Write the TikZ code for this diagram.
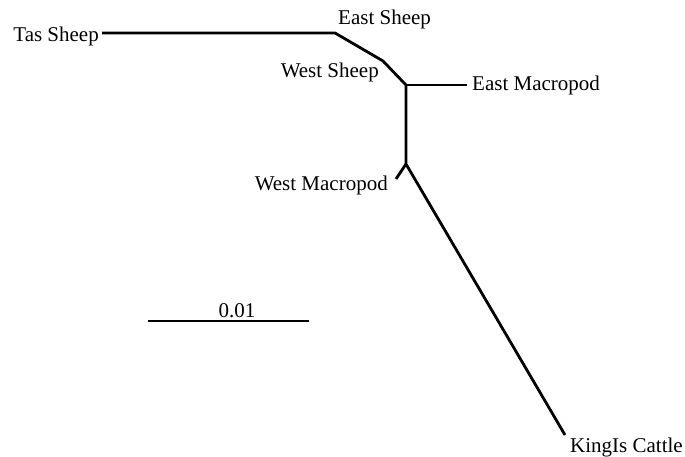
\documentclass[tikz,border=0pt]{standalone}
\usepackage{fontspec}
\setmainfont{Liberation Serif}
\begin{document}
\begin{tikzpicture}[x=1pt,y=-1pt,
  br/.style={line width=2.8pt,line cap=butt,line join=miter},
  lab/.style={inner sep=0pt,font=\fontsize{21}{23}\selectfont}]
\useasboundingbox (0,0) rectangle (685,457);
% tree nodes
\coordinate (tas) at (102,33);
\coordinate (es) at (335,33);
\coordinate (ws) at (383,61);
\coordinate (n1) at (406,85);
\coordinate (em) at (467,85);
\coordinate (n2) at (406,164);
\coordinate (wm) at (396,179);
\coordinate (kc) at (565,435);
\draw[br] (tas) -- (es) -- (ws) -- (n1) -- (n2) -- (kc);
\draw[br] (n1) -- (em);
\draw[br] (n2) -- (wm);
% scale bar
\coordinate (s1) at (148,321);
\coordinate (s2) at (309,321);
\draw[br] (s1) -- (s2);
% labels
\node[lab,anchor=base east] (ltas) at (99,42) {Tas Sheep};
\node[lab,anchor=base west] (les) at (338,25) {East Sheep};
\node[lab,anchor=base east] (lws) at (379,78) {West Sheep};
\node[lab,anchor=base west] (lem) at (472,91) {East Macropod};
\node[lab,anchor=base east] (lwm) at (388,190) {West Macropod};
\node[lab,anchor=base west] (lkc) at (570,452) {KingIs Cattle};
\node[lab,anchor=base] (lsc) at (237,317) {0.01};
\end{tikzpicture}
\end{document}
